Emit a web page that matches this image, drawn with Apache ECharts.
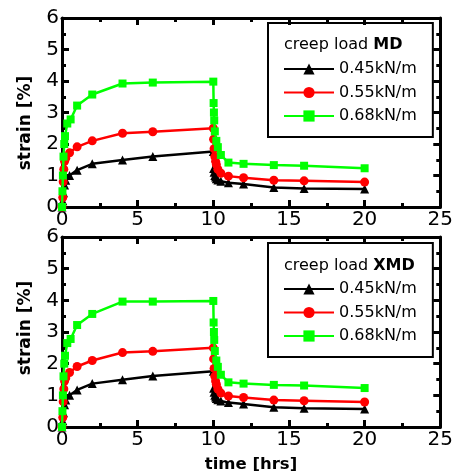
<!DOCTYPE html>
<html>
<head>
<meta charset="utf-8">
<script src="https://cdn.jsdelivr.net/npm/echarts@6/dist/echarts.min.js"></script>
<style>html,body{margin:0;padding:0;background:#fff;}#c{width:456px;height:474px;}</style>
</head>
<body>
<div id="c"></div>
<script>
// ---- data (top panel: creep load MD) ----
const seriesNames = ['0.45kN/m', '0.55kN/m', '0.68kN/m'];
const xTicks = [0, 5, 10, 15, 20, 25];
const yTicks = [0, 1, 2, 3, 4, 5, 6];

const tMD045 = [0, 0.05, 0.1, 0.17, 0.25, 0.5, 1, 2, 4, 6, 10, 10.02, 10.05, 10.1, 10.15, 10.2, 10.3, 10.5, 11, 12, 14, 16, 20];
const vMD045 = [0, 0.2, 0.45, 0.7, 0.85, 1.0, 1.17, 1.37, 1.49, 1.6, 1.76, 1.22, 1.1, 1.0, 0.95, 0.9, 0.86, 0.82, 0.77, 0.73, 0.62, 0.59, 0.57];
const tMD055 = [0, 0.05, 0.08, 0.12, 0.17, 0.25, 0.5, 1, 2, 4, 6, 10, 10.02, 10.05, 10.1, 10.15, 10.2, 10.3, 10.5, 11, 12, 14, 16, 20];
const vMD055 = [0, 0.3, 0.8, 1.2, 1.45, 1.55, 1.72, 1.91, 2.1, 2.34, 2.39, 2.5, 2.15, 1.85, 1.6, 1.45, 1.35, 1.2, 1.07, 0.98, 0.93, 0.85, 0.83, 0.79];
const tMD068 = [0, 0.03, 0.06, 0.1, 0.15, 0.2, 0.35, 0.57, 1, 2, 4, 6, 10, 10.02, 10.04, 10.06, 10.1, 10.2, 10.3, 10.5, 11, 12, 14, 16, 20];
const vMD068 = [0, 0.5, 1.0, 1.6, 2.0, 2.25, 2.65, 2.78, 3.22, 3.57, 3.92, 3.95, 3.98, 3.3, 3.0, 2.75, 2.4, 2.1, 1.9, 1.65, 1.41, 1.37, 1.33, 1.31, 1.23];

// ---- data (bottom panel: creep load XMD) ----
const tXMD045 = [0, 0.05, 0.1, 0.17, 0.25, 0.5, 1, 2, 4, 6, 10, 10.02, 10.05, 10.1, 10.15, 10.2, 10.3, 10.5, 11, 12, 14, 16, 20];
const vXMD045 = [0, 0.2, 0.45, 0.7, 0.85, 1.0, 1.17, 1.37, 1.49, 1.61, 1.76, 1.22, 1.1, 1.0, 0.95, 0.9, 0.86, 0.82, 0.77, 0.73, 0.62, 0.59, 0.57];
const tXMD055 = [0, 0.05, 0.08, 0.12, 0.17, 0.25, 0.5, 1, 2, 4, 6, 10, 10.02, 10.05, 10.1, 10.15, 10.2, 10.3, 10.5, 11, 12, 14, 16, 20];
const vXMD055 = [0, 0.3, 0.8, 1.2, 1.45, 1.55, 1.72, 1.91, 2.1, 2.35, 2.39, 2.5, 2.15, 1.85, 1.6, 1.45, 1.35, 1.2, 1.07, 0.98, 0.93, 0.85, 0.83, 0.79];
const tXMD068 = [0, 0.03, 0.06, 0.1, 0.15, 0.2, 0.35, 0.57, 1, 2, 4, 6, 10, 10.02, 10.04, 10.06, 10.1, 10.2, 10.3, 10.5, 11, 12, 14, 16, 20];
const vXMD068 = [0, 0.5, 1.0, 1.6, 2.0, 2.25, 2.65, 2.78, 3.22, 3.57, 3.96, 3.96, 3.98, 3.3, 3.0, 2.75, 2.4, 2.1, 1.9, 1.65, 1.41, 1.37, 1.33, 1.31, 1.23];

const FONT = 'DejaVu Sans';
const colors = ['#000000', '#ff0000', '#00ff00'];
const symbols = ['triangle', 'circle', 'rect'];
const symSizes = [9, 9, 8];

function pairs(t, v) { return t.map((x, i) => [x, v[i]]); }

function xAx(grid, pos, labels) {
  return {
    gridIndex: grid, type: 'value', position: pos,
    min: xTicks[0], max: xTicks[xTicks.length - 1], interval: xTicks[1] - xTicks[0],
    axisLine: { show: true, onZero: false, lineStyle: { color: '#000', width: 3 } },
    axisTick: { show: true, inside: true, length: 7, lineStyle: { color: '#000', width: 3 } },
    minorTick: { show: true, splitNumber: 2, length: 4, lineStyle: { color: '#000', width: 3 } },
    axisLabel: { show: labels, fontSize: 20, color: '#000', fontFamily: FONT, margin: 3 },
    splitLine: { show: false }
  };
}
function yAx(grid, pos, labels) {
  return {
    gridIndex: grid, type: 'value', position: pos,
    min: yTicks[0], max: yTicks[yTicks.length - 1], interval: yTicks[1] - yTicks[0],
    axisLine: { show: true, onZero: false, lineStyle: { color: '#000', width: 3 } },
    axisTick: { show: true, inside: true, length: 7, lineStyle: { color: '#000', width: 3 } },
    minorTick: { show: true, splitNumber: 2, length: 4, lineStyle: { color: '#000', width: 3 } },
    axisLabel: { show: labels, fontSize: 20, color: '#000', fontFamily: FONT, margin: 3 },
    splitLine: { show: false }
  };
}

function mkSeries(name, idx, xi, yi, t, v) {
  return {
    name: name, type: 'line', xAxisIndex: xi, yAxisIndex: yi,
    data: pairs(t, v),
    symbol: symbols[idx], symbolSize: symSizes[idx], showSymbol: true,
    lineStyle: { color: colors[idx], width: 2.5 },
    itemStyle: { color: colors[idx] },
    z: 3 + idx
  };
}

function legendAt(top) {
  return {
    data: seriesNames, orient: 'vertical', left: 268, top: top,
    padding: [37, 16, 12, 15], itemWidth: 50, itemHeight: 14, itemGap: 5.5,
    borderColor: '#000', borderWidth: 2,
    textStyle: { fontSize: 16, fontFamily: FONT, color: '#000', lineHeight: 18 },
    selectedMode: false
  };
}
function titleAt(top, bold) {
  return {
    text: '{n|creep load }{b|' + bold + '}', left: 284, top: top, padding: 0,
    textStyle: { fontWeight: 'normal', fontSize: 16, fontFamily: FONT, color: '#000', rich: {
      n: { fontSize: 16, fontFamily: FONT, color: '#000', fontWeight: 'normal' },
      b: { fontSize: 16, fontFamily: FONT, color: '#000', fontWeight: 'bold' }
    } }
  };
}

const chart = echarts.init(document.getElementById('c'), null, { renderer: 'canvas' });
chart.setOption({
  animation: false,
  backgroundColor: '#fff',
  grid: [
    { left: 62, top: 18, width: 380, height: 189 },
    { left: 62, top: 237, width: 380, height: 190 }
  ],
  xAxis: [xAx(0, 'bottom', true), xAx(0, 'top', false), xAx(1, 'bottom', true), xAx(1, 'top', false)],
  yAxis: [yAx(0, 'left', true), yAx(0, 'right', false), yAx(1, 'left', true), yAx(1, 'right', false)],
  legend: [legendAt(23), legendAt(243)],
  title: [titleAt(37, 'MD'), titleAt(258, 'XMD')],
  graphic: [
    { type: 'text', x: 26, y: 123, rotation: Math.PI / 2, style: { text: 'strain [%]', fontSize: 17, fontWeight: 'bold', fontFamily: FONT, fill: '#000', align: 'center', verticalAlign: 'middle' } },
    { type: 'text', x: 26, y: 328, rotation: Math.PI / 2, style: { text: 'strain [%]', fontSize: 17, fontWeight: 'bold', fontFamily: FONT, fill: '#000', align: 'center', verticalAlign: 'middle' } },
    { type: 'text', x: 251, y: 465, style: { text: 'time [hrs]', fontSize: 16.5, fontWeight: 'bold', fontFamily: FONT, fill: '#000', align: 'center', verticalAlign: 'middle' } }
  ],
  series: [
    mkSeries(seriesNames[0], 0, 0, 0, tMD045, vMD045),
    mkSeries(seriesNames[1], 1, 0, 0, tMD055, vMD055),
    mkSeries(seriesNames[2], 2, 0, 0, tMD068, vMD068),
    mkSeries(seriesNames[0], 0, 2, 2, tXMD045, vXMD045),
    mkSeries(seriesNames[1], 1, 2, 2, tXMD055, vXMD055),
    mkSeries(seriesNames[2], 2, 2, 2, tXMD068, vXMD068)
  ]
});
</script>
</body>
</html>
